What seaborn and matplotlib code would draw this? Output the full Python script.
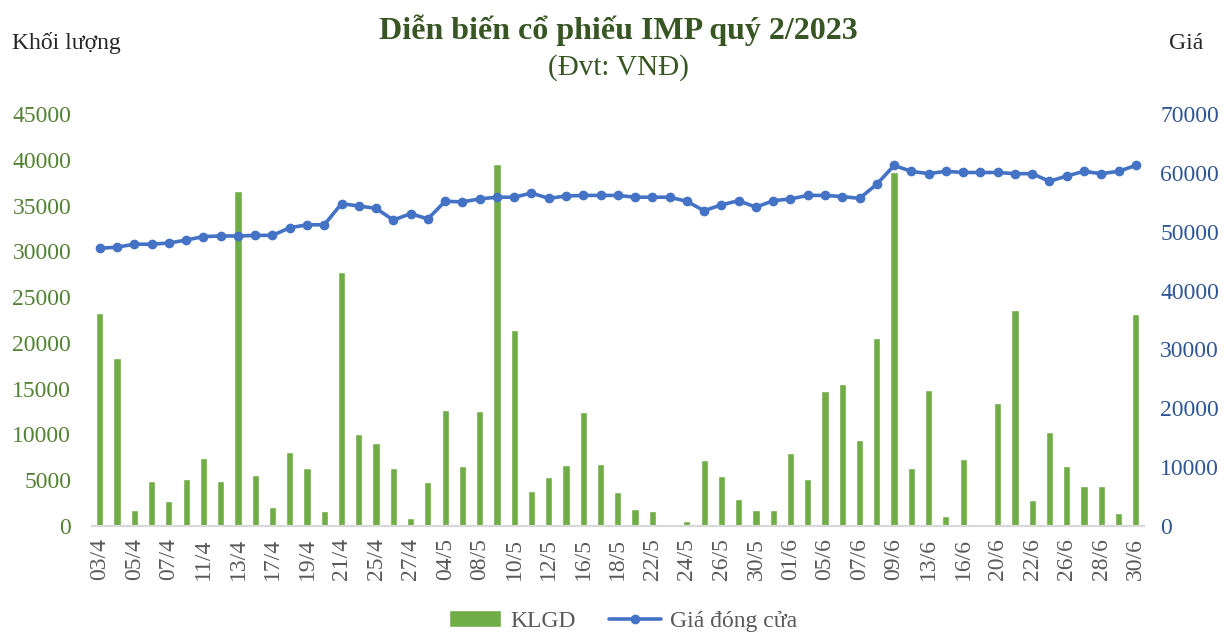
import numpy as np
import pandas as pd
import seaborn as sns
import matplotlib.pyplot as plt
from matplotlib.patches import Patch
from matplotlib.lines import Line2D

# ngày giao dịch quý 2/2023
dates = ['03/4', '04/4', '05/4', '06/4', '07/4', '10/4', '11/4', '12/4', '13/4', '14/4',
         '17/4', '18/4', '19/4', '20/4', '21/4', '24/4', '25/4', '26/4', '27/4', '28/4',
         '04/5', '05/5', '08/5', '09/5', '10/5', '11/5', '12/5', '15/5', '16/5', '17/5',
         '18/5', '19/5', '22/5', '23/5', '24/5', '25/5', '26/5', '29/5', '30/5', '31/5',
         '01/6', '02/6', '05/6', '06/6', '07/6', '08/6', '09/6', '12/6', '13/6', '14/6',
         '16/6', '19/6', '20/6', '21/6', '22/6', '23/6', '26/6', '27/6', '28/6', '29/6',
         '30/6']

klgd = [23300, 18400, 1700, 4900, 2700, 5100, 7400, 4900, 36600, 5500,
        2100, 8100, 6300, 1600, 27800, 10000, 9100, 6300, 900, 4800,
        12700, 6500, 12600, 39600, 21400, 3800, 5300, 6600, 12400, 6800,
        3700, 1800, 1600, 0, 500, 7200, 5400, 2900, 1700, 1700,
        8000, 5100, 14700, 15500, 9400, 20500, 38700, 6300, 14800, 1100,
        7300, 0, 13400, 23600, 2800, 10300, 6500, 4300, 4300, 1400,
        23200]

gia = [47200, 47400, 47900, 47900, 48100, 48600, 49200, 49300, 49300, 49400,
       49400, 50700, 51200, 51200, 54800, 54400, 54000, 52000, 53100, 52200,
       55200, 55100, 55600, 55900, 55900, 56600, 55700, 56100, 56200, 56200,
       56200, 55900, 55900, 55900, 55200, 53600, 54600, 55300, 54200, 55300,
       55600, 56200, 56200, 56000, 55700, 58100, 61300, 60300, 59900, 60300,
       60100, 60100, 60100, 59900, 59900, 58600, 59500, 60300, 59900, 60300,
       61300]

df = pd.DataFrame({'date': dates, 'klgd': klgd, 'gia': gia})
df['idx'] = range(len(df))

sns.set_style('white')
plt.rcParams['font.family'] = ['Liberation Serif', 'DejaVu Serif']

bar_color = '#70AD47'
line_color = '#4472C4'

fig = plt.figure(figsize=(12.27, 6.35), dpi=100)
ax = fig.add_axes([0.075, 0.172, 0.857, 0.648])

sns.barplot(data=df, x='date', y='klgd', order=dates, color=bar_color,
            width=0.42, saturation=1, ax=ax)
ax.set_xlim(-0.45, len(dates) - 0.55)
ax.set_ylim(0, 45000)
ax.set_yticks(range(0, 45001, 5000))
ax.tick_params(axis='y', labelsize=17, labelcolor='#548235', length=0, pad=15)
ax.set_xticks(range(0, len(dates), 2))
ax.set_xticklabels(dates[::2], rotation=90, fontsize=17, color='#595959')
ax.tick_params(axis='x', length=0, pad=9)
ax.set_xlabel('')
ax.set_ylabel('')

ax2 = ax.twinx()
sns.lineplot(data=df, x='idx', y='gia', color=line_color, linewidth=2.6,
             marker='o', markersize=7, markeredgewidth=0, ax=ax2)
ax2.set_ylim(0, 70000)
ax2.set_yticks(range(0, 70001, 10000))
ax2.tick_params(axis='y', labelsize=17, labelcolor='#2F5597', length=0, pad=12)
ax2.set_ylabel('')
ax2.set_xlim(ax.get_xlim())

for a in (ax, ax2):
    for s in ['top', 'left', 'right']:
        a.spines[s].set_visible(False)
    a.spines['bottom'].set_color('#D9D9D9')
    a.spines['bottom'].set_linewidth(1.5)
    a.grid(False)

fig.text(0.504, 0.952, 'Diễn biến cổ phiếu IMP quý 2/2023', ha='center', va='center',
         fontsize=23, fontweight='bold', color='#375623')
fig.text(0.504, 0.894, '(Đvt: VNĐ)', ha='center', va='center',
         fontsize=21, color='#375623')
fig.text(0.01, 0.932, 'Khối lượng', ha='left', va='center', fontsize=17)
fig.text(0.953, 0.932, 'Giá', ha='left', va='center', fontsize=17)

handles = [Patch(facecolor=bar_color, label='KLGD'),
           Line2D([0], [0], color=line_color, linewidth=2.6, marker='o',
                  markersize=7, markeredgewidth=0, label='Giá đóng cửa')]
fig.legend(handles=handles, loc='center', bbox_to_anchor=(0.508, 0.022), ncol=2,
           frameon=False, fontsize=17, handlelength=2.2, handleheight=0.7,
           handletextpad=0.4, columnspacing=1.4, labelcolor='#595959')

fig.savefig('out.png', dpi=100)
